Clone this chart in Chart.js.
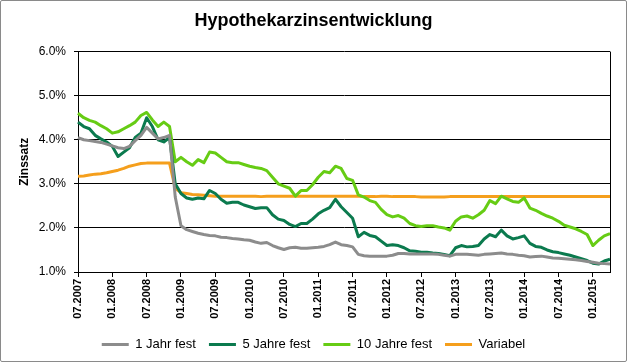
<!DOCTYPE html>
<html>
<head>
<meta charset="utf-8">
<script src="https://cdn.jsdelivr.net/npm/chart.js@4.4.1/dist/chart.umd.min.js"></script>
<style>
html,body{margin:0;padding:0;background:#fff;}
#wrap{width:627px;height:362px;box-sizing:border-box;border:1px solid #8a8a8a;border-radius:2px;position:relative;}
canvas{display:block;}
</style>
</head>
<body>
<div id="wrap"><canvas id="c" width="625" height="360"></canvas></div>
<script>
// Categories: monthly, 07.2007 .. 04.2015
const months = [];
(function(){ let y=2007, m=7; while(!(y===2015 && m===5)){ months.push(String(m).padStart(2,'0')+'.'+y); m++; if(m>12){m=1;y++;} } })();
const tickLabels = ['07.2007','01.2008','07.2008','01.2009','07.2009','01.2010','07.2010','01.2011','07.2011','01.2012','07.2012','01.2013','07.2013','01.2014','07.2014','01.2015'];
const seriesNames = ['1 Jahr fest','5 Jahre fest','10 Jahre fest','Variabel'];

const einJahr = [
4.05,4.00,3.98,3.96,3.94,3.90,3.86,3.82,3.80,3.85,
3.98,4.10,4.28,4.15,4.02,4.05,4.10,2.70,2.05,1.96,
1.92,1.88,1.85,1.83,1.82,1.79,1.78,1.76,1.75,1.73,
1.72,1.68,1.65,1.67,1.60,1.55,1.51,1.55,1.56,1.54,
1.54,1.55,1.56,1.58,1.62,1.68,1.62,1.60,1.57,1.40,
1.37,1.36,1.36,1.36,1.36,1.38,1.42,1.42,1.41,1.41,
1.41,1.41,1.41,1.40,1.38,1.36,1.40,1.40,1.40,1.39,
1.38,1.40,1.41,1.42,1.43,1.41,1.40,1.38,1.37,1.34,
1.35,1.36,1.34,1.32,1.31,1.30,1.29,1.28,1.26,1.24,
1.22,1.20,1.19,1.18];
const fuenfJahre = [
4.40,4.30,4.25,4.10,4.02,3.95,3.85,3.62,3.72,3.82,
4.05,4.15,4.50,4.30,4.00,3.95,4.05,3.00,2.78,2.68,
2.65,2.68,2.66,2.85,2.78,2.65,2.56,2.58,2.58,2.52,
2.48,2.44,2.46,2.46,2.30,2.20,2.17,2.08,2.03,2.10,
2.10,2.20,2.32,2.40,2.46,2.65,2.48,2.35,2.22,1.80,
1.90,1.83,1.80,1.70,1.60,1.62,1.60,1.55,1.48,1.47,
1.45,1.45,1.43,1.42,1.40,1.37,1.55,1.60,1.57,1.58,
1.60,1.75,1.85,1.80,1.95,1.82,1.75,1.78,1.82,1.65,
1.58,1.56,1.50,1.46,1.44,1.41,1.38,1.34,1.30,1.26,
1.20,1.18,1.25,1.29];
const zehnJahre = [
4.60,4.50,4.44,4.40,4.32,4.25,4.15,4.18,4.25,4.32,
4.40,4.55,4.62,4.45,4.30,4.40,4.30,3.50,3.60,3.50,
3.42,3.55,3.48,3.72,3.70,3.60,3.50,3.48,3.48,3.44,
3.40,3.37,3.35,3.30,3.15,3.00,2.95,2.90,2.72,2.85,
2.85,2.98,3.15,3.28,3.25,3.40,3.35,3.12,3.08,2.75,
2.70,2.62,2.58,2.42,2.30,2.25,2.28,2.22,2.10,2.05,
2.03,2.05,2.05,2.02,2.00,1.95,2.15,2.25,2.27,2.22,
2.30,2.40,2.62,2.55,2.72,2.66,2.60,2.58,2.68,2.45,
2.40,2.33,2.27,2.22,2.15,2.06,2.02,1.98,1.92,1.85,
1.60,1.72,1.82,1.87];
const variabel = [
3.17,3.18,3.20,3.22,3.23,3.25,3.28,3.31,3.35,3.40,
3.43,3.46,3.47,3.47,3.47,3.47,3.47,2.90,2.80,2.78,
2.76,2.75,2.74,2.73,2.72,2.72,2.72,2.72,2.72,2.72,
2.72,2.72,2.71,2.72,2.72,2.72,2.72,2.72,2.72,2.72,
2.72,2.72,2.72,2.72,2.72,2.72,2.72,2.72,2.72,2.72,
2.71,2.71,2.71,2.72,2.72,2.71,2.71,2.71,2.71,2.71,
2.70,2.70,2.70,2.70,2.70,2.71,2.71,2.71,2.71,2.71,
2.71,2.71,2.71,2.71,2.71,2.71,2.71,2.71,2.71,2.71,
2.71,2.71,2.71,2.71,2.71,2.71,2.71,2.71,2.71,2.71,
2.71,2.71,2.71,2.71];

const colors = ['#8c8c8c','#0b7a4e','#66cc14','#f59f1c'];
const seriesData = [einJahr, fuenfJahre, zehnJahre, variabel];

const FONT = "'Liberation Sans', Arial, sans-serif";

const frame = {
  id:'frame',
  afterDatasetsDraw(chart){
    const a = chart.chartArea, ctx = chart.ctx;
    ctx.save(); ctx.strokeStyle='#000'; ctx.lineWidth=1;
    ctx.beginPath(); ctx.moveTo(Math.round(a.right)+0.5, a.top); ctx.lineTo(Math.round(a.right)+0.5, a.bottom); ctx.stroke();
    ctx.restore();
  }
};

new Chart(document.getElementById('c'), {
  type:'line',
  data:{
    labels: months,
    datasets: seriesNames.map((n,i)=>({
      label:n, data:seriesData[i], borderColor:colors[i], backgroundColor:colors[i],
      borderWidth:3, pointRadius:0, pointStyle:'line', tension:0, borderJoinStyle:'round'
    }))
  },
  options:{
    responsive:false, animation:false, events:[],
    layout:{padding:{left:16,right:16,top:0,bottom:0}},
    plugins:{
      title:{display:true,text:'Hypothekarzinsentwicklung',color:'#000',
        font:{family:FONT,size:18,weight:'bold'},padding:{top:9,bottom:20}},
      legend:{position:'bottom',
        labels:{usePointStyle:true,pointStyleWidth:27,boxHeight:13,padding:13,color:'#000',
          font:{family:FONT,size:13}}},
      tooltip:{enabled:false}
    },
    scales:{
      x:{
        offset:false,
        afterBuildTicks(scale){ scale.ticks = scale.ticks.filter(t => tickLabels.includes(months[t.value])); },
        afterFit(scale){ scale.height = 53; },
        ticks:{autoSkip:false,minRotation:90,maxRotation:90,color:'#000',padding:2,
          font:{family:FONT,size:11,weight:'bold'},
          callback(v){ return months[v]; }},
        grid:{drawOnChartArea:false,drawTicks:true,tickLength:5,color:'#000'},
        border:{color:'#000',width:1}
      },
      y:{
        min:1,max:6,
        afterFit(scale){ scale.width = 61; },
        ticks:{stepSize:1,color:'#000',padding:8,font:{family:FONT,size:12},
          callback(v){ return v.toFixed(1)+'%'; }},
        grid:{color:'#000',drawTicks:true,tickLength:4},
        border:{color:'#000',width:1},
        title:{display:true,text:'Zinssatz',color:'#000',font:{family:FONT,size:12,weight:'bold'},padding:{top:0,bottom:0}}
      }
    }
  },
  plugins:[frame]
});
</script>
</body>
</html>
